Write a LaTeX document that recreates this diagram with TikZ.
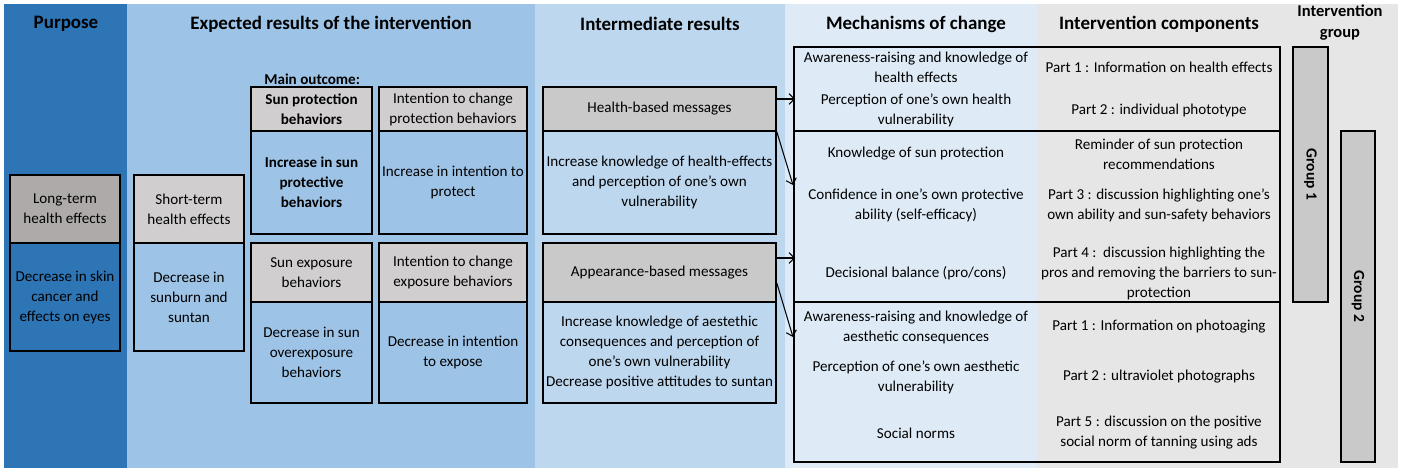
\documentclass[tikz,border=0pt]{standalone}
\usepackage{fontspec}
\setmainfont{Carlito}
\usetikzlibrary{arrows.meta,fit}
\definecolor{purposeblue}{RGB}{46,117,182}
\definecolor{expectblue}{RGB}{157,195,230}
\definecolor{interblue}{RGB}{189,215,238}
\definecolor{mechblue}{RGB}{222,235,247}
\definecolor{compgray}{RGB}{231,230,230}
\definecolor{darkhead}{RGB}{174,170,170}
\definecolor{lighthead}{RGB}{208,206,206}
\definecolor{midhead}{RGB}{201,201,201}
\tikzset{
	cell/.style={draw=black, line width=0.9pt, inner sep=0pt},
	txt/.style={align=center, inner sep=0pt, font=\fontsize{8.6}{11.4}\selectfont},
	title/.style={align=center, inner sep=0pt, font=\fontsize{10.8}{13}\selectfont\bfseries},
	arr/.style={line width=0.6pt, -{Straight Barb[length=3pt,width=6pt]}}
}
% box from corner to corner, with its text in the middle
\def\cellbox[#1](#2)(#3)(#4)#5{\node[cell, #1, fit={(#3)(#4)}] (#2) {}; \node[txt] (#2T) at (#2.center) {#5};}

\begin{document}
\begin{tikzpicture}[x=0.02cm, y=-0.02cm]
			%%%%% START %%%%%
			\useasboundingbox (0,0) rectangle (1403,473);
			
			% columns
			\fill[purposeblue] (4,4) rectangle (127,468);
			\fill[expectblue] (127,4) rectangle (535,468);
			\fill[interblue] (535,4) rectangle (785,468);
			\fill[mechblue] (785,4) rectangle (1037,468);
			\fill[compgray] (1037,4) rectangle (1398,468);
			
			\node[title] (purposeT) at (66,24) {Purpose};
			\node[title] (expectT) at (331,24) {Expected results of the intervention};
			\node[title] (interT) at (660,24) {Intermediate results};
			\node[title] (mechT) at (916,24) {Mechanisms of change};
			\node[title] (compT) at (1159,24) {Intervention components};
			\node[title, font=\fontsize{9.4}{11.9}\selectfont\bfseries] (groupT) at (1340,23) {Intervention\\group};
			
			% purpose
			\cellbox[fill=darkhead](longH)(10,175)(120,243){Long-term\\health effects};
			\cellbox[fill=purposeblue](longB)(10,243)(120,351){Decrease in skin\\cancer and\\effects on eyes};
			
			% expected results
			\cellbox[fill=lighthead](shortH)(134,175)(244,243){Short-term\\health effects};
			\cellbox[fill=expectblue](shortB)(134,243)(244,351){Decrease in\\sunburn and\\suntan};
			
			\node[txt, anchor=west, font=\fontsize{8.6}{11.4}\selectfont\bfseries] (mainT) at (264,79) {Main outcome:};
			\cellbox[fill=lighthead](protH)(251,87)(372,131){\textbf{Sun protection}\\\textbf{behaviors}};
			\cellbox[fill=expectblue](protB)(251,131)(372,234){\textbf{Increase in sun}\\\textbf{protective}\\\textbf{behaviors}};
			\cellbox[fill=lighthead](intProtH)(379,87)(527,131){Intention to change\\protection behaviors};
			\cellbox[fill=expectblue](intProtB)(379,131)(527,234){Increase in intention to\\protect};
			
			\cellbox[fill=lighthead](expoH)(251,243)(372,302){Sun exposure\\behaviors};
			\cellbox[fill=expectblue](expoB)(251,302)(372,403){Decrease in sun\\overexposure\\behaviors};
			\cellbox[fill=lighthead](intExpoH)(379,243)(527,302){Intention to change\\exposure behaviors};
			\cellbox[fill=expectblue](intExpoB)(379,302)(527,403){Decrease in intention\\to expose};
			
			% intermediate results
			\cellbox[fill=midhead](healthH)(543,87)(776,131){Health-based messages};
			\cellbox[fill=interblue](healthB)(543,131)(776,234){Increase knowledge of health-effects\\and perception of one's own\\vulnerability};
			\cellbox[fill=midhead](appearH)(543,243)(776,302){Appearance-based messages};
			\cellbox[fill=interblue](appearB)(543,302)(776,403){Increase knowledge of aestethic\\consequences and perception of\\one's own vulnerability\\Decrease positive attitudes to suntan};
			
			% mechanisms and components
			\node[cell, fit={(794,47)(1280,131)}] (healthFrame) {};
			\node[cell, fit={(794,131)(1280,302)}] (sunFrame) {};
			\node[cell, fit={(794,302)(1280,462)}] (aestheticFrame) {};
			
			\node[txt] (awareHealth) at (916,67) {Awareness-raising and knowledge of\\health effects};
			\node[txt] (percHealth) at (916,110) {Perception of one's own health\\vulnerability};
			\node[txt] (knowSun) at (916,154) {Knowledge of sun protection};
			\node[txt] (selfEff) at (916,205) {Confidence in one's own protective\\ability (self-efficacy)};
			\node[txt] (decBal) at (916,273) {Decisional balance (pro/cons)};
			\node[txt] (awareAesth) at (916,327) {Awareness-raising and knowledge of\\aesthetic consequences};
			\node[txt] (percAesth) at (916,377) {Perception of one's own aesthetic\\vulnerability};
			\node[txt] (socNorms) at (916,433) {Social norms};
			
			\node[txt] (partOne) at (1159,67) {Part 1 : Information on health effects};
			\node[txt] (partTwo) at (1159,110) {Part 2 : individual phototype};
			\node[txt] (reminder) at (1159,154) {Reminder of sun protection\\recommendations};
			\node[txt] (partThree) at (1159,205) {Part 3 : discussion highlighting one's\\own ability and sun-safety behaviors};
			\node[txt] (partFour) at (1159,273) {Part 4 :\ \ discussion highlighting the\\pros and removing the barriers to sun-\\protection};
			\node[txt] (partOneB) at (1159,327) {Part 1 : Information on photoaging};
			\node[txt] (partTwoB) at (1159,377) {Part 2 : ultraviolet photographs};
			\node[txt] (partFive) at (1159,433) {Part 5 : discussion on the positive\\social norm of tanning using ads};
			
			% groups
			\node[cell, fill=midhead, fit={(1293,47)(1328,302)}] (groupOne) {};
			\node[txt, rotate=-90, font=\fontsize{8.8}{11}\selectfont\bfseries] (groupOneT) at (groupOne.center) {Group 1};
			\node[cell, fill=midhead, fit={(1341,131)(1375,462)}] (groupTwo) {};
			\node[txt, rotate=-90, font=\fontsize{8.8}{11}\selectfont\bfseries] (groupTwoT) at (groupTwo.center) {Group 2};
			
			% arrows
			\coordinate (healthIn) at (795,99);
			\coordinate (sunIn) at (793,185);
			\coordinate (appearIn) at (795,258);
			\coordinate (appearOut) at (0,283);
			\coordinate (aesthIn) at (793,337);
			\draw[arr] (healthH.east |- healthIn) -- (healthIn);
			\draw[arr] (healthH.south east) -- (sunIn);
			\draw[arr] (appearH.east |- appearIn) -- (appearIn);
			\draw[arr] (appearH.east |- appearOut) -- (aesthIn);
			
			%%%%% END %%%%%
\end{tikzpicture}
\end{document}
